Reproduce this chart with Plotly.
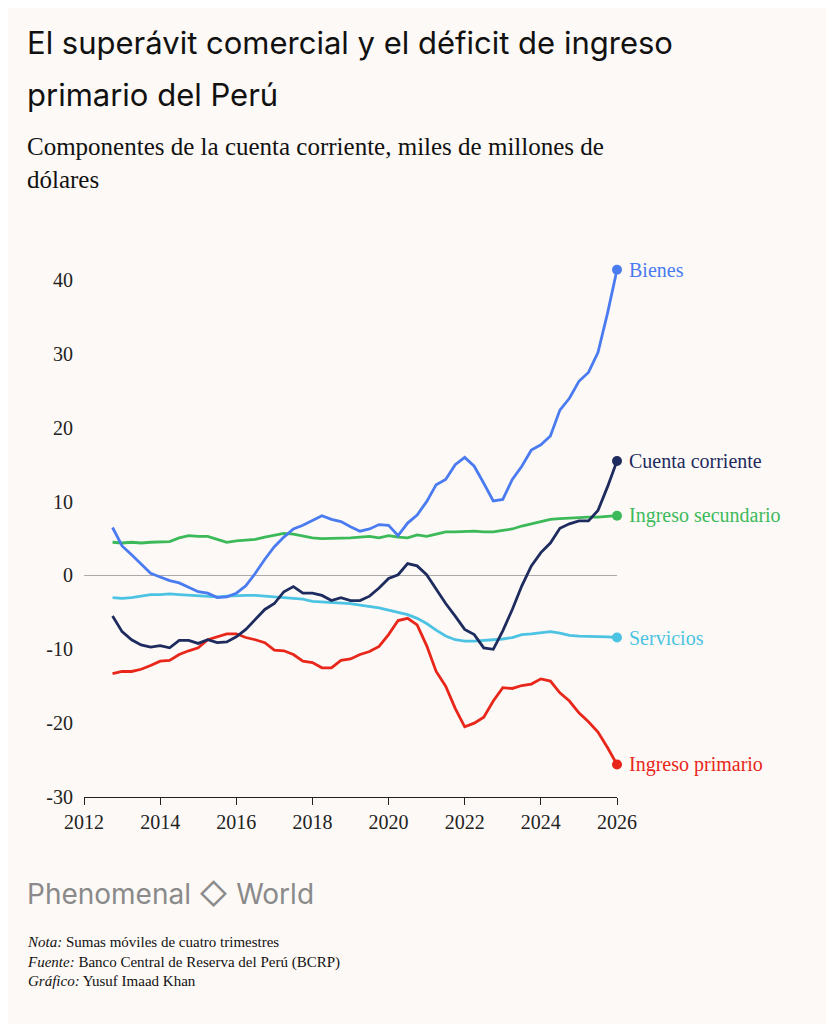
import plotly.graph_objects as go

# quarterly rolling sums, 2012Q4 .. 2026Q1
bienes = [6.5, 4, 2.8, 1.5, 0.3, -0.2, -0.7, -1, -1.6, -2.2,
          -2.4, -3, -2.9, -2.4, -1.4, 0.3, 2.2, 3.9, 5.2, 6.3,
          6.8, 7.5, 8.1, 7.6, 7.3, 6.6, 6, 6.3, 6.9, 6.8,
          5.4, 7.1, 8.2, 10, 12.3, 13, 15, 16, 14.8, 12.5,
          10.1, 10.3, 13, 14.8, 17, 17.7, 18.9, 22.4, 24, 26.3,
          27.5, 30.2, 35.5, 41.4]
cuenta = [-5.5, -7.6, -8.7, -9.4, -9.7, -9.5, -9.8, -8.8, -8.8, -9.2,
          -8.7, -9.1, -9.0, -8.3, -7.3, -6.0, -4.6, -3.8, -2.2, -1.5,
          -2.4, -2.4, -2.7, -3.4, -3.0, -3.4, -3.4, -2.8, -1.7, -0.4,
          0.1, 1.6, 1.3, 0.1, -1.8, -3.8, -5.5, -7.3, -8.0, -9.8,
          -10.0, -7.5, -4.6, -1.4, 1.3, 3.1, 4.4, 6.4, 7.0, 7.4,
          7.4, 8.8, 12.0, 15.5]
secundario = [4.5, 4.4, 4.5, 4.4, 4.5, 4.6, 4.6, 5.1, 5.4, 5.3,
              5.3, 4.9, 4.5, 4.7, 4.8, 4.9, 5.2, 5.5, 5.7, 5.6,
              5.3, 5.1, 5.0, 5.0, 5.0, 5.1, 5.2, 5.3, 5.1, 5.4,
              5.2, 5.1, 5.5, 5.3, 5.6, 5.9, 5.9, 6.0, 6.0, 5.9,
              5.9, 6.1, 6.3, 6.7, 7.0, 7.3, 7.6, 7.7, 7.8, 7.8,
              7.9, 7.9, 8.0, 8.1]
servicios = [-3.0, -3.1, -3.0, -2.8, -2.6, -2.6, -2.5, -2.6, -2.7, -2.8,
             -2.9, -2.9, -2.8, -2.7, -2.7, -2.7, -2.8, -2.8, -2.9, -3.0,
             -3.2, -3.5, -3.6, -3.6, -3.7, -3.8, -4.0, -4.2, -4.4, -4.7,
             -5.0, -5.3, -5.8, -6.5, -7.4, -8.2, -8.7, -8.9, -8.9, -8.8,
             -8.8, -8.6, -8.4, -8.0, -7.9, -7.7, -7.6, -7.8, -8.1, -8.2,
             -8.2, -8.2, -8.3, -8.4]
primario = [-13.3, -13.0, -13.0, -12.7, -12.2, -11.6, -11.5, -10.7, -10.2, -9.8,
            -8.7, -8.3, -7.9, -7.9, -8.4, -8.7, -9.1, -10.1, -10.2, -10.7,
            -11.6, -11.8, -12.5, -12.5, -11.5, -11.3, -10.7, -10.3, -9.6, -8.0,
            -6.1, -5.8, -6.7, -9.5, -13.0, -15.0, -18.0, -20.5, -20.0, -19.2,
            -17.0, -15.2, -15.3, -14.9, -14.7, -14.0, -14.3, -15.9, -17.0, -18.6,
            -19.8, -21.2, -23.3, -25.6]
x = [2012.75 + 0.25 * i for i in range(len(bienes))]

y_ticks = [-30, -20, -10, 0, 10, 20, 30, 40]
y_labels = ["-30", "-20", "-10", "0", "10", "20", "30", "40"]

series = [
    ("Servicios", servicios, "#4cc3e2"),
    ("Ingreso secundario", secundario, "#3cba5a"),
    ("Ingreso primario", primario, "#e8261a"),
    ("Cuenta corriente", cuenta, "#1e2b5e"),
    ("Bienes", bienes, "#4a7bf0"),
]

bg = "#fdf9f6"
serif = "Liberation Serif, DejaVu Serif, serif"
sans = "Inter, Roboto, sans-serif"
fig = go.Figure()
for name, ys, color in series:
    fig.add_trace(go.Scatter(x=x, y=ys, mode="lines", line=dict(color=color, width=2.8),
                             hoverinfo="skip", cliponaxis=False))
    fig.add_trace(go.Scatter(x=[x[-1]], y=[ys[-1]], mode="markers", cliponaxis=False,
                             marker=dict(color=color, size=10)))
    fig.add_annotation(x=x[-1], y=ys[-1], text=name, showarrow=False, xanchor="left",
                       xshift=10, font=dict(family=serif, size=20, color=color))

fig.update_layout(
    width=834, height=1024, showlegend=False,
    paper_bgcolor=bg, plot_bgcolor=bg,
    margin=dict(l=76, r=225, t=250, b=235),
    xaxis=dict(range=[2012, 2026], tickvals=list(range(2012, 2027, 2)), showgrid=False,
               zeroline=False, showline=True, linecolor="#222", linewidth=1.3,
               ticks="outside", ticklen=7, tickcolor="#222",
               tickfont=dict(family=serif, size=20, color="#222")),
    yaxis=dict(range=[-30, 43], tickvals=y_ticks, ticktext=y_labels, showgrid=False,
               zeroline=True, zerolinecolor="#aaaaaa", zerolinewidth=1,
               tickfont=dict(family=serif, size=20, color="#222"), ticklabelstandoff=10),
)

def note(text, y, size, family, color="#111"):
    fig.add_annotation(xref="paper", yref="paper", x=-0.11, y=y, xanchor="left", yanchor="top",
                       showarrow=False, align="left", text=text,
                       font=dict(family=family, size=size, color=color))

note("El superávit comercial y el déficit de ingreso", 1.437, 31, sans)
note("primario del Perú", 1.342, 31, sans)
note("Componentes de la cuenta corriente, miles de millones de<br>dólares", 1.235, 25, serif)
note("Phenomenal ◇ World", -0.145, 28, sans, "#8a8a8a")
note("<i>Nota:</i> Sumas móviles de cuatro trimestres<br>"
     "<i>Fuente:</i> Banco Central de Reserva del Perú (BCRP)<br>"
     "<i>Gráfico:</i> Yusuf Imaad Khan", -0.25, 15, serif)

fig.write_html("out.html")
